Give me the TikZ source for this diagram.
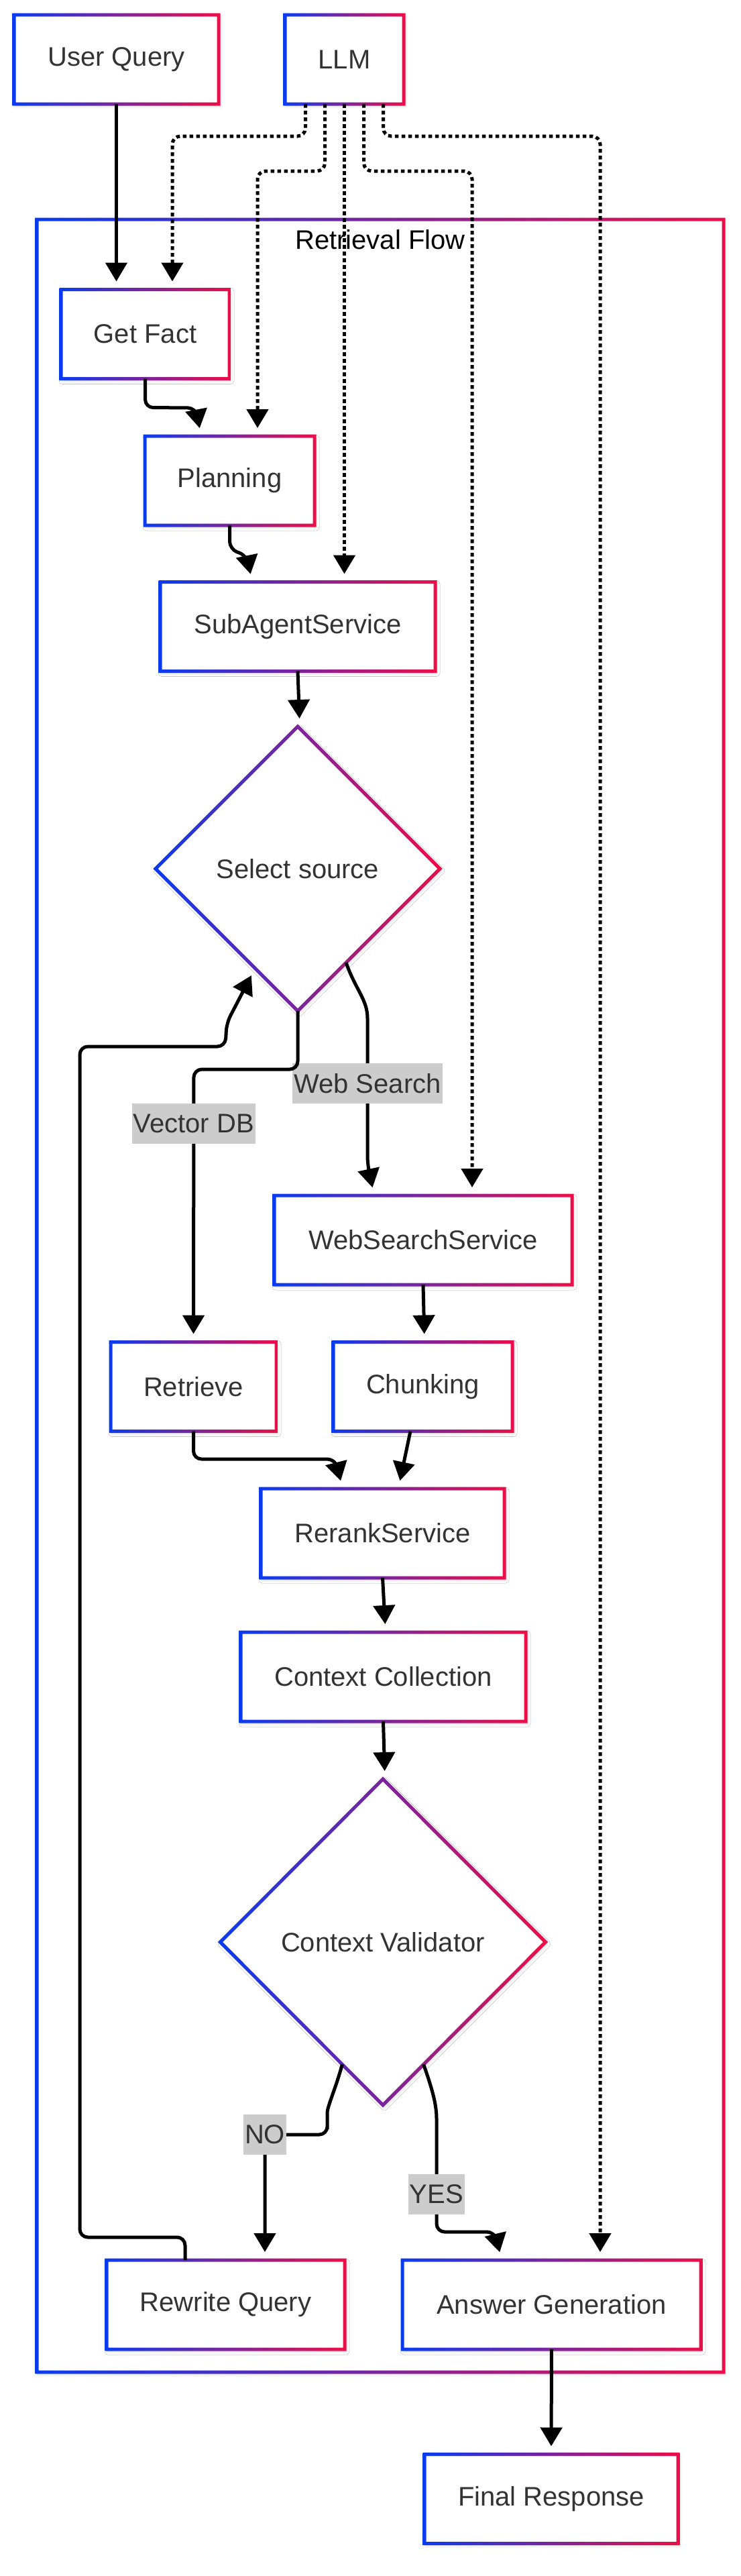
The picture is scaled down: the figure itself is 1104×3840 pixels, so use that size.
\documentclass[tikz,border=0pt]{standalone}
\usepackage{fontspec}
\setmainfont{Liberation Sans}
\usetikzlibrary{arrows.meta, calc, shapes.geometric, shadows.blur}
\usepackage{xcolor}
\definecolor{gblue}{HTML}{0A3BEF}
\definecolor{gred}{HTML}{EC0E48}
\definecolor{txt}{HTML}{333333}
\definecolor{lblbg}{HTML}{CCCCCC}

% gradient borders (blue -> red), drawn round an existing node
\newcommand{\gradrect}[1]{%
  \shade[left color=gblue, right color=gred, even odd rule]
    ($(#1.south west)+(-1.25pt,-1.25pt)$) rectangle ($(#1.north east)+(1.25pt,1.25pt)$)
    ($(#1.south west)+(1.25pt,1.25pt)$) rectangle ($(#1.north east)+(-1.25pt,-1.25pt)$);}
\newcommand{\graddiamond}[1]{%
  \shade[left color=gblue, right color=gred, even odd rule]
    ($(#1.north)+(0,1.8pt)$) -- ($(#1.east)+(1.8pt,0)$) -- ($(#1.south)+(0,-1.8pt)$) -- ($(#1.west)+(-1.8pt,0)$) -- cycle
    ($(#1.north)+(0,-1.8pt)$) -- ($(#1.east)+(-1.8pt,0)$) -- ($(#1.south)+(0,1.8pt)$) -- ($(#1.west)+(1.8pt,0)$) -- cycle;}

\begin{document}
\begin{tikzpicture}[x=0.5pt, y=-0.5pt,
    box/.style={rectangle, fill=white, inner sep=0pt, outer sep=0pt, minimum height=66.5pt, text=txt,
      font=\fontsize{20}{24}\selectfont,
      blur shadow={shadow xshift=1pt, shadow yshift=-1.5pt, shadow blur radius=2.5pt, shadow opacity=18}},
    decision/.style={diamond, fill=white, inner sep=0pt, outer sep=0pt, text=txt,
      font=\fontsize{20}{24}\selectfont,
      blur shadow={shadow xshift=1pt, shadow yshift=-1.5pt, shadow blur radius=2.5pt, shadow opacity=18}},
    cluster/.style={rectangle, fill=white, inner sep=0pt, outer sep=0pt,
      blur shadow={shadow xshift=1pt, shadow yshift=-1.5pt, shadow blur radius=2.5pt, shadow opacity=18}},
    flow/.style={line width=2.5pt, rounded corners=6pt, -{Triangle[length=14pt, width=16pt]}, shorten >=6pt},
    dotflow/.style={flow, dash pattern=on 2.75pt off 2.25pt},
    elabel/.style={sharp corners, fill=lblbg, text=txt, inner xsep=1pt, inner ysep=0pt, minimum height=30pt,
      font=\fontsize{20}{24}\selectfont}
  ]
    \useasboundingbox (0,0) rectangle (1104,3840);

    % cluster
    \node[cluster, minimum width=512pt, minimum height=1604.5pt] (flow) at (567,1931.5) {};
    \gradrect{flow}
    \node[font=\fontsize{20}{24}\selectfont] (flowtitle) at (567,357) {Retrieval Flow};

    % nodes
    \node[box, minimum width=152.5pt] (userq) at (173.5,88.5) {User Query};
    \node[box, minimum width=88.5pt] (llm) at (513.5,88.5) {LLM};
    \node[box, minimum width=125.5pt] (getfact) at (216.5,498) {Get Fact};
    \node[box, minimum width=126.5pt] (planning) at (342.5,716.5) {Planning};
    \node[box, minimum width=205pt] (subagent) at (444,934) {SubAgentService};
    \node[decision, minimum width=212pt, minimum height=212pt] (select) at (444,1295) {Select source};
    \node[box, minimum width=222pt] (websearch) at (631,1848.5) {WebSearchService};
    \node[box, minimum width=123.5pt] (retrieve) at (288.5,2067) {Retrieve};
    \node[box, minimum width=133.5pt] (chunking) at (630.5,2067) {Chunking};
    \node[box, minimum width=181.5pt] (rerank) at (570.5,2285.5) {RerankService};
    \node[box, minimum width=212.5pt] (ctxcoll) at (571.5,2499.5) {Context Collection};
    \node[decision, minimum width=242.5pt, minimum height=243pt] (validator) at (571,2895) {Context Validator};
    \node[box, minimum width=177.5pt] (rewrite) at (336.5,3435.5) {Rewrite Query};
    \node[box, minimum width=222.5pt] (answer) at (822.5,3435.5) {Answer Generation};
    \node[box, minimum width=189pt] (final) at (822,3725) {Final Response};

    \foreach \n in {userq, llm, getfact, planning, subagent, websearch, retrieve, chunking, rerank, ctxcoll, rewrite, answer, final} {
      \gradrect{\n}
    }
    \foreach \n in {select, validator} {
      \graddiamond{\n}
    }

    % LLM calls
    \draw[dotflow] ($(llm.south)+(-58,0)$) -- ++(0,48) -| ($(getfact.north)+(40.5,0)$);
    \draw[dotflow] ($(llm.south)+(-29,0)$) -- ++(0,100) -| ($(planning.north)+(41.5,0)$);
    \draw[dotflow] (llm.south) -- (llm.south |- subagent.north);
    \draw[dotflow] ($(llm.south)+(29,0)$) -- ++(0,100) -| ($(websearch.north)+(73,0)$);
    \draw[dotflow] ($(llm.south)+(58,0)$) -- ++(0,48) -| ($(answer.north)+(72.5,0)$);

    % main flow
    \draw[flow] (userq.south) -- (userq.south |- getfact.north);
    \draw[flow] (getfact.south) -- ++(0,43) -- (292,608) -- ($(planning.north)+(-42.5,0)$);
    \draw[flow] (planning.south) -- ++(0,36) -- (368,828) -- ($(subagent.north)+(-68,0)$);
    \draw[flow] (subagent.south) -- ($(select.north)+(3,0)$);
    \draw[flow] ($(select.south)!0.34!(select.east)$) .. controls (530,1475) and (548,1490) .. (548,1530)
      -- node[elabel] {Web Search} (548,1700) -- (548,1735) -- ($(websearch.north)+(-73,0)$);
    \draw[flow] (select.south) -- (444,1594) -- (289,1594)
      -- node[elabel, pos=0.2] {Vector DB} (retrieve.north);
    \draw[flow] (websearch.south) -- ($(chunking.north)+(2.5,0)$);
    \draw[flow] (retrieve.south) -- (288.5,2175) -- (500,2175) -- ($(rerank.north)+(-59.5,0)$);
    \draw[flow] ($(chunking.south)+(-18.5,0)$) -- ($(rerank.north)+(23.5,0)$);
    \draw[flow] (rerank.south) -- ($(ctxcoll.north)+(3.5,0)$);
    \draw[flow] (ctxcoll.south) -- ($(validator.north)+(3,0)$);
    \draw[flow] ($(validator.south)!0.25!(validator.west)$) .. controls (500,3115) and (488,3140) .. (488,3162)
      -- (488,3182) -- (395,3182) node[elabel] {NO} -- ($(rewrite.north)+(58.5,0)$);
    \draw[flow] ($(validator.south)!0.25!(validator.east)$) .. controls (643,3110) and (651,3135) .. (651,3170)
      -- node[elabel, pos=0.64] {YES} (651,3327) -- (738,3327) -- ($(answer.north)+(-74.5,0)$);
    \draw[flow] ($(rewrite.north)+(-60.5,0)$) -- (276,3335) -- (119,3335) -- (119,1560) -- (336,1560)
      -- (338,1525) -- ($(select.south)!0.3!(select.west)$);
    \draw[flow] (answer.south) -- (final.north);
\end{tikzpicture}
\end{document}
